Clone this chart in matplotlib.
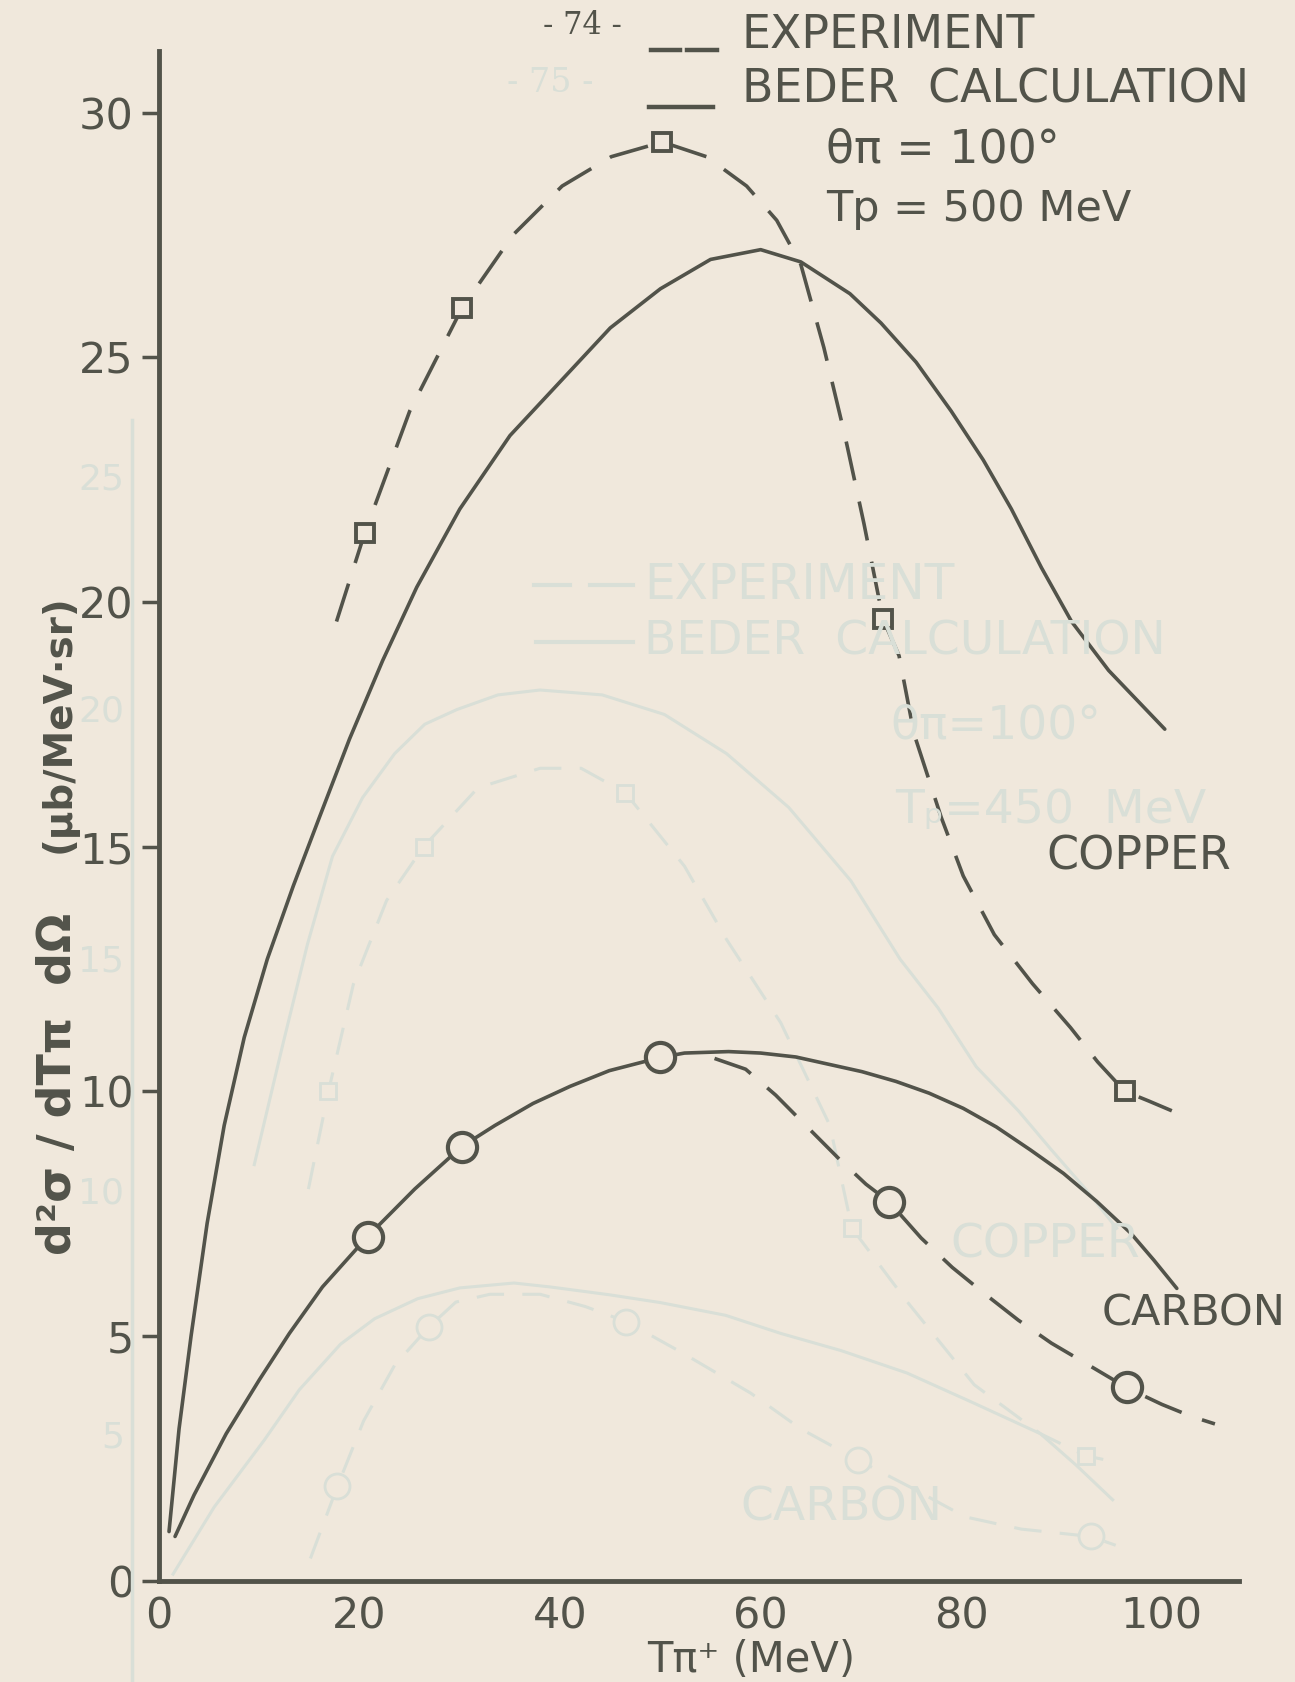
"""
Secao de choque dupla diferencial d2sigma/dTpi dOmega vs T_pi+ para cobre e
carbono (theta_pi = 100 graus, Tp = 500 MeV): experimento (tracejado) e
calculo de Beder (linha cheia). Pagina 74 da tese, com a pagina 75 vazando
por tras do papel (tracos claros).

Saida: out.png
"""

import matplotlib

matplotlib.use("Agg")
import matplotlib.pyplot as plt
from matplotlib.lines import Line2D

W, H = 1295, 1682
PAPER = "#f0e8dc"
INK = "#52534a"
GHOST = "#d9dfd7"

# ---- dados (T em MeV, secao de choque em ub/MeV.sr) ----
cu_calc_t = [1.0, 2.0, 3.2, 4.8, 6.5, 8.5, 10.8, 13.4, 16.0, 19.0, 22.3, 25.7,
             30.0, 35.0, 40.0, 45.0, 50.0, 55.0, 60.0, 64.0, 68.9, 72.0, 75.5,
             79.0, 82.2, 85.0, 88.0, 91.0, 94.7, 97.5, 100.3]
cu_calc_y = [1.0, 3.1, 5.0, 7.3, 9.3, 11.1, 12.7, 14.2, 15.6, 17.2, 18.8, 20.3,
             21.9, 23.4, 24.5, 25.6, 26.4, 27.0, 27.2, 26.95, 26.3, 25.7, 24.9,
             23.9, 22.9, 21.9, 20.7, 19.6, 18.6, 18.0, 17.4]

cu_exp_line_t = [17.7, 20.5, 25.0, 30.2, 35.3, 40.2, 45.1, 50.2, 54.6, 58.6,
                 61.6, 64.0, 66.3, 68.4, 70.3, 72.2, 73.8, 75.3, 78.0, 80.2,
                 83.3, 87.1, 90.9, 93.6, 96.3, 98.7, 101.0]
cu_exp_line_y = [19.6, 21.4, 23.9, 26.0, 27.5, 28.5, 29.1, 29.4, 29.1, 28.5,
                 27.8, 26.9, 25.2, 23.4, 21.6, 19.65, 18.9, 17.3, 15.6, 14.4,
                 13.2, 12.2, 11.3, 10.6, 10.0, 9.8, 9.6]
cu_exp_t = [20.5, 30.2, 50.2, 72.2, 96.3]
cu_exp_y = [21.4, 26.0, 29.4, 19.65, 10.0]

c_calc_t = [1.6, 3.5, 6.7, 10.0, 13.0, 16.3, 20.8, 25.5, 30.2, 33.5, 37.3, 41.0,
            44.9, 50.0, 52.4, 56.8, 60.0, 63.5, 66.8, 70.1, 73.5, 76.8, 80.2,
            83.5, 86.9, 90.2, 93.5, 96.9, 99.2, 101.5]
c_calc_y = [0.9, 1.75, 3.0, 4.1, 5.05, 6.0, 7.03, 8.0, 8.87, 9.3, 9.75, 10.1,
            10.42, 10.69, 10.78, 10.81, 10.78, 10.7, 10.55, 10.4, 10.2, 9.96,
            9.65, 9.27, 8.8, 8.32, 7.75, 7.1, 6.55, 5.97]

c_exp_line_t = [55.4, 58.5, 61.5, 64.5, 67.9, 70.5, 72.8, 76.0, 79.1, 82.4,
                85.7, 89.0, 92.4, 96.6, 100.0, 103.0, 105.3]
c_exp_line_y = [10.67, 10.45, 9.92, 9.3, 8.6, 8.1, 7.74, 7.0, 6.4, 5.85,
                5.32, 4.85, 4.44, 3.93, 3.6, 3.35, 3.2]
c_exp_t = [20.8, 30.2, 50.0, 72.8, 96.5]
c_exp_y = [7.03, 8.87, 10.69, 7.74, 3.95]

y_ticks = [0, 5, 10, 15, 20, 25, 30]
x_ticks = [0, 20, 40, 60, 80, 100]

# ---- pagina seguinte vista por transparencia (mesma escala do eixo) ----
ghost_cu_calc_t = [9.5, 12.4, 14.8, 17.3, 20.3, 23.5, 26.5, 29.7, 33.8, 38.0,
                   44.2, 50.4, 56.6, 62.8, 69.0, 73.9, 77.7, 81.5, 85.7, 89.0,
                   92.4, 95.5]
ghost_cu_calc_y = [8.5, 11.0, 13.0, 14.8, 16.0, 16.9, 17.5, 17.8, 18.1, 18.2,
                   18.1, 17.7, 16.9, 15.8, 14.3, 12.7, 11.7, 10.5, 9.6, 8.8,
                   8.0, 7.2]
ghost_cu_exp_line_t = [14.9, 16.9, 19.4, 22.7, 26.4, 31.8, 38.0, 42.1, 46.5,
                       52.4, 56.6, 62.0, 66.9, 69.1, 74.6, 81.3, 87.9, 92.4, 95.9]
ghost_cu_exp_line_y = [8.0, 10.0, 12.2, 13.9, 15.0, 16.2, 16.6, 16.6, 16.1,
                       14.6, 13.1, 11.4, 9.3, 7.2, 5.7, 4.0, 3.0, 2.55, 2.4]
ghost_cu_exp_t = [16.9, 26.4, 46.5, 69.1, 92.4]
ghost_cu_exp_y = [10.0, 15.0, 16.1, 7.2, 2.55]

ghost_c_calc_t = [1.4, 5.5, 10.5, 14.0, 18.1, 21.5, 25.8, 30.0, 35.4, 39.0,
                  44.9, 50.0, 56.5, 62.0, 68.0, 74.6, 81.0, 87.9, 91.5, 95.1]
ghost_c_calc_y = [0.13, 1.5, 2.87, 3.9, 4.83, 5.35, 5.76, 5.98, 6.08, 6.0,
                  5.84, 5.68, 5.42, 5.05, 4.7, 4.24, 3.65, 3.0, 2.35, 1.65]
ghost_c_exp_line_t = [15.1, 17.8, 20.4, 23.5, 26.9, 29.6, 33.0, 38.0, 42.5,
                      46.6, 52.3, 59.0, 64.0, 69.7, 75.0, 80.4, 86.0, 92.9, 95.4]
ghost_c_exp_line_y = [0.45, 1.93, 3.26, 4.4, 5.18, 5.69, 5.85, 5.85, 5.6,
                      5.29, 4.64, 3.83, 3.1, 2.46, 1.9, 1.3, 1.05, 0.9, 0.72]
ghost_c_exp_t = [17.8, 26.9, 46.6, 69.7, 92.9]
ghost_c_exp_y = [1.93, 5.18, 5.29, 2.46, 0.9]
ghost_y_labels = ["25", "20", "15", "10", "5"]
ghost_y_label_px = [480, 711, 962, 1193, 1437]


def fx(x):
    return x / W


def fy(y):
    return 1 - y / H


def ftext(x, y, s, **kw):
    kw.setdefault("color", INK)
    kw.setdefault("va", "center")
    fig.text(fx(x), fy(y), s, **kw)


def fline(xs, ys, **kw):
    fig.add_artist(Line2D([fx(v) for v in xs], [fy(v) for v in ys],
                          transform=fig.transFigure, **kw))


fig = plt.figure(figsize=(W / 100, H / 100), dpi=100, facecolor=PAPER)
ax = fig.add_axes([159 / W, 1 - 1580.5 / H, 1080 / W, 1529 / H])
ax.set_facecolor("none")

# pagina 75 por tras
ftext(550, 83, "- 75 -", ha="center", color=GHOST, fontsize=24, family="DejaVu Serif")
fline([534, 570], [585, 585], color=GHOST, lw=3)
fline([590, 633], [585, 585], color=GHOST, lw=3)
fline([536, 633], [642, 642], color=GHOST, lw=3)
ftext(644, 585, "EXPERIMENT", color=GHOST, fontsize=35)
ftext(644, 642, "BEDER  CALCULATION", color=GHOST, fontsize=34)
ftext(890, 726, "θπ=100°", color=GHOST, fontsize=34)
ftext(895, 810, "Tₚ=450  MeV", color=GHOST, fontsize=34)
ftext(950, 1245, "COPPER", color=GHOST, fontsize=34)
ftext(740, 1508, "CARBON", color=GHOST, fontsize=34)
for lab, ypx in zip(ghost_y_labels, ghost_y_label_px):
    ftext(124, ypx, lab, ha="right", color=GHOST, fontsize=26)
fline([132, 132], [420, 1682], color=GHOST, lw=2.5)

gkw = dict(color=GHOST, lw=2.2)
ax.plot(ghost_cu_calc_t, ghost_cu_calc_y, **gkw)
ax.plot(ghost_c_calc_t, ghost_c_calc_y, **gkw)
ax.plot(ghost_cu_exp_line_t, ghost_cu_exp_line_y, ls=(0, (9, 6)), **gkw)
ax.plot(ghost_c_exp_line_t, ghost_c_exp_line_y, ls=(0, (9, 6)), **gkw)
ax.plot(ghost_cu_exp_t, ghost_cu_exp_y, "s", ms=11, mfc=PAPER, mec=GHOST, mew=2)
ax.plot(ghost_c_exp_t, ghost_c_exp_y, "o", ms=18, mfc=PAPER, mec=GHOST, mew=2)

# curvas principais
dash = (0, (11, 6))
ax.plot(cu_calc_t, cu_calc_y, color=INK, lw=2.6, solid_capstyle="round",
        solid_joinstyle="round")
ax.plot(c_calc_t, c_calc_y, color=INK, lw=2.6, solid_capstyle="round",
        solid_joinstyle="round")
ax.plot(cu_exp_line_t, cu_exp_line_y, color=INK, lw=2.6, ls=dash)
ax.plot(c_exp_line_t, c_exp_line_y, color=INK, lw=2.6, ls=dash)
ax.plot(cu_exp_t, cu_exp_y, "s", ms=13, mfc=PAPER, mec=INK, mew=2.8, zorder=5)
ax.plot(c_exp_t, c_exp_y, "o", ms=21, mfc=PAPER, mec=INK, mew=3, zorder=5)

ax.set_xlim(0, 107.7)
ax.set_ylim(0, 31.25)
for side in ("top", "right"):
    ax.spines[side].set_visible(False)
for side in ("left", "bottom"):
    ax.spines[side].set_color(INK)
    ax.spines[side].set_linewidth(3.5)
ax.set_yticks(y_ticks)
ax.set_yticklabels([str(v) for v in y_ticks])
ax.set_xticks(x_ticks)
ax.set_xticklabels([str(v) for v in x_ticks])
ax.tick_params(axis="y", direction="out", length=12, width=2.5, color=INK,
               pad=6, labelsize=31, labelcolor=INK)
ax.tick_params(axis="x", length=0, pad=11, labelsize=31, labelcolor=INK)

# legenda e anotacoes desenhadas a mao
ftext(582, 26, "- 74 -", ha="center", fontsize=22, family="DejaVu Serif")
fline([651, 680], [50, 50], color=INK, lw=3.2)
fline([687, 717], [50, 50], color=INK, lw=3.2)
fline([649, 713], [107, 107], color=INK, lw=3.2)
ftext(742, 36, "EXPERIMENT", fontsize=33)
ftext(742, 90, "BEDER  CALCULATION", fontsize=33)
ftext(826, 150, "θπ = 100°", fontsize=33)
ftext(826, 209, "Tp = 500 MeV", fontsize=31)
ftext(1046, 857, "COPPER", fontsize=33)
ftext(1102, 1313, "CARBON", fontsize=31)
ftext(751, 1660, "Tπ⁺ (MeV)", ha="center", fontsize=30)
ftext(59, 724, "(μb/MeV·sr)", ha="center", rotation=90, fontsize=28, fontweight="bold")
ftext(59, 1084, "d²σ / dTπ  dΩ", ha="center", rotation=90, fontsize=33,
      fontweight="bold")

fig.savefig("out.png", dpi=100, facecolor=PAPER)
